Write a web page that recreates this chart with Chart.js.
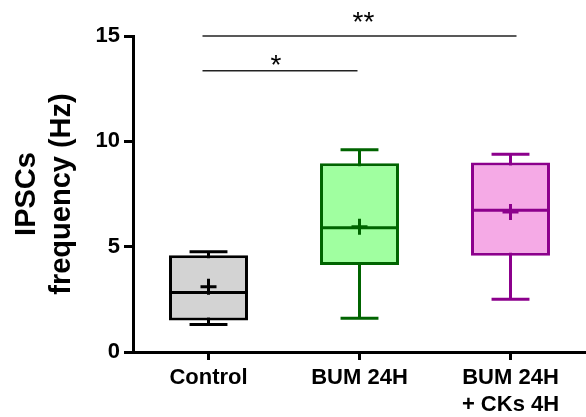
<!DOCTYPE html>
<html>
<head>
<meta charset="utf-8">
<script src="https://cdn.jsdelivr.net/npm/chart.js@4.4.1/dist/chart.umd.min.js"></script>
<style>
  html, body { margin: 0; padding: 0; background: #fff; }
  #wrap { width: 586px; height: 417px; }
</style>
</head>
<body>
<div id="wrap"><canvas id="chart"></canvas></div>
<script>
const groups    = ['Control', 'BUM 24H', ['BUM 24H', '+ CKs 4H']]
const whiskLow  = [1.30, 1.60, 2.50]
const q1        = [1.49, 4.13, 4.57]
const medians   = [2.82, 5.90, 6.73]
const q3        = [4.59, 8.96, 8.99]
const whiskHigh = [4.76, 9.60, 9.39]
const means     = [3.10, 5.95, 6.65]
const yTicks    = [0, 5, 10, 15]
// significance brackets: from group, to group, height (Hz), label
const bracketFrom  = [0, 0]
const bracketTo    = [1, 2]
const bracketY     = [13.35, 15]
const bracketLabel = ['*', '**']

const fills   = ['#d3d3d3', '#a0ffa0', '#f5aae6']
const strokes = ['#000000', '#006400', '#8c008c']
const FONT = '"Liberation Sans", Arial, Helvetica, sans-serif'

// whiskers under the boxes, medians / means / brackets on top
const boxExtras = {
  id: 'boxExtras',
  beforeDatasetsDraw(chart) {
    const { ctx, scales: { y } } = chart
    const bars = chart.getDatasetMeta(0).data
    ctx.save()
    ctx.lineWidth = 3
    bars.forEach((bar, i) => {
      const cx = bar.x, cap = bar.width * 0.24
      const hi = y.getPixelForValue(whiskHigh[i]), lo = y.getPixelForValue(whiskLow[i])
      ctx.strokeStyle = strokes[i]
      ctx.beginPath()
      ctx.moveTo(cx, hi); ctx.lineTo(cx, lo)
      ctx.moveTo(cx - cap, hi); ctx.lineTo(cx + cap, hi)
      ctx.moveTo(cx - cap, lo); ctx.lineTo(cx + cap, lo)
      ctx.stroke()
    })
    ctx.restore()
  },
  afterDatasetsDraw(chart) {
    const { ctx, scales: { x, y } } = chart
    const bars = chart.getDatasetMeta(0).data
    ctx.save()
    ctx.lineWidth = 3
    bars.forEach((bar, i) => {
      const cx = bar.x, hw = bar.width / 2
      const med = y.getPixelForValue(medians[i]), mn = y.getPixelForValue(means[i])
      ctx.strokeStyle = strokes[i]
      ctx.beginPath()
      ctx.moveTo(cx - hw, med); ctx.lineTo(cx + hw, med)
      ctx.moveTo(cx - 8, mn); ctx.lineTo(cx + 8, mn)
      ctx.moveTo(cx, mn - 8); ctx.lineTo(cx, mn + 8)
      ctx.stroke()
    })

    const labelDy = [3, -5]
    const labelDx = [-4, 4]
    ctx.lineWidth = 1.5
    ctx.strokeStyle = '#222'
    ctx.fillStyle = '#000'
    ctx.font = '28px ' + FONT
    ctx.textAlign = 'center'
    ctx.textBaseline = 'alphabetic'
    bracketY.forEach((v, k) => {
      const x0 = x.getPixelForValue(bracketFrom[k]) - 6
      const x1 = x.getPixelForValue(bracketTo[k]) + (k ? 6 : -2)
      const py = y.getPixelForValue(v)
      ctx.beginPath()
      ctx.moveTo(x0, py); ctx.lineTo(x1, py)
      ctx.stroke()
      ctx.fillText(bracketLabel[k], (x0 + x1) / 2 + labelDx[k], py + labelDy[k])
    })
    ctx.restore()
  }
}

new Chart(document.getElementById('chart'), {
  type: 'bar',
  data: {
    labels: groups,
    datasets: [{
      data: q1.map((v, i) => [v, q3[i]]),
      backgroundColor: fills,
      borderColor: strokes,
      borderWidth: 3,
      borderSkipped: false,
      barPercentage: 0.523,
      categoryPercentage: 1
    }]
  },
  options: {
    responsive: true,
    maintainAspectRatio: false,
    animation: false,
    layout: { padding: { top: 36, left: 0, right: 0, bottom: 0 } },
    plugins: { legend: { display: false }, tooltip: { enabled: false } },
    scales: {
      x: {
        offset: true,
        grid: { display: true, offset: false, drawOnChartArea: false, tickLength: 8, tickWidth: 3, tickColor: '#000' },
        border: { display: true, color: '#000', width: 3 },
        ticks: { color: '#000', padding: 4, maxRotation: 0, autoSkip: false,
                 font: { family: FONT, size: 22, weight: 'bold', lineHeight: 1.23 } },
        afterFit: s => { s.height = 65 }
      },
      y: {
        min: 0,
        max: 15,
        afterBuildTicks: s => { s.ticks = yTicks.map(v => ({ value: v })) },
        grid: { display: true, drawOnChartArea: false, tickLength: 9, tickWidth: 3, tickColor: '#000' },
        border: { display: true, color: '#000', width: 3 },
        ticks: { color: '#000', padding: 4, font: { family: FONT, size: 22, weight: 'bold' } },
        title: {
          display: true,
          text: ['IPSCs', 'frequency (Hz)'],
          color: '#000',
          padding: { top: 10, bottom: 0 },
          font: { family: FONT, size: 29, weight: 'bold', lineHeight: 1.2 }
        },
        afterFit: s => { s.width = 133 }
      }
    }
  },
  plugins: [boxExtras]
})
</script>
</body>
</html>
